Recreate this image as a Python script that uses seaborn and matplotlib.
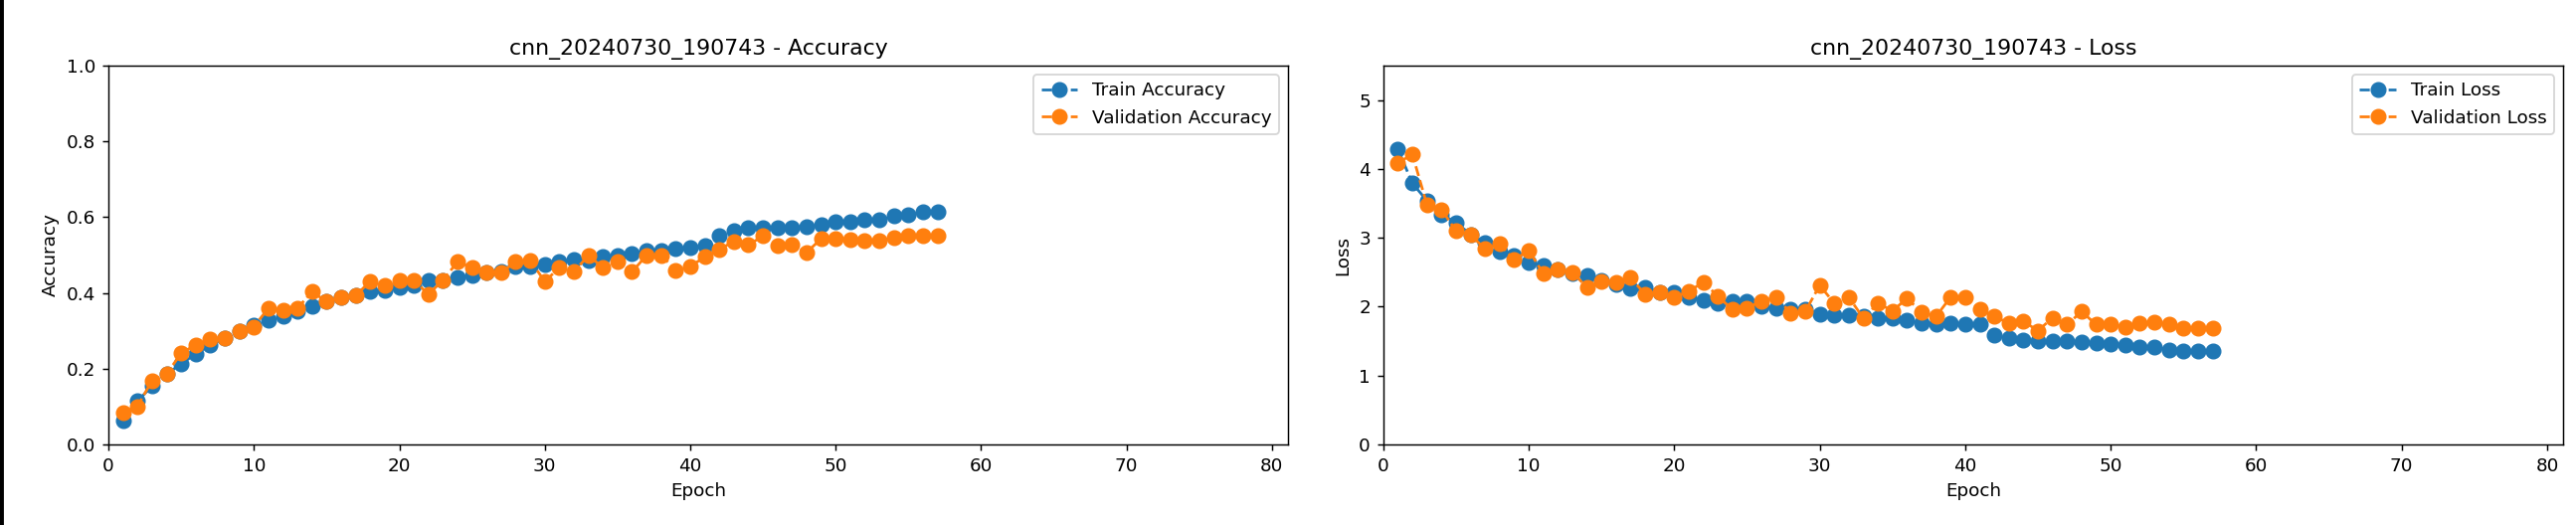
import numpy as np
import pandas as pd
import matplotlib
matplotlib.use("Agg")
import matplotlib.pyplot as plt
import seaborn as sns
from matplotlib.patches import Rectangle

run_name = "cnn_20240730_190743"

epochs = list(range(1, 58))

train_acc = [0.062, 0.115, 0.154, 0.186, 0.213, 0.239, 0.263, 0.280, 0.300, 0.315,
             0.329, 0.338, 0.351, 0.364, 0.377, 0.388, 0.393, 0.403, 0.408, 0.414,
             0.420, 0.434, 0.434, 0.440, 0.447, 0.454, 0.456, 0.470, 0.470, 0.476,
             0.484, 0.488, 0.486, 0.495, 0.500, 0.505, 0.511, 0.511, 0.517, 0.520,
             0.526, 0.552, 0.565, 0.571, 0.571, 0.571, 0.571, 0.576, 0.580, 0.587,
             0.587, 0.592, 0.592, 0.603, 0.606, 0.613, 0.613]
val_acc = [0.084, 0.101, 0.169, 0.186, 0.241, 0.263, 0.279, 0.282, 0.300, 0.311,
           0.360, 0.355, 0.360, 0.403, 0.377, 0.388, 0.393, 0.431, 0.421, 0.434,
           0.434, 0.396, 0.434, 0.482, 0.467, 0.454, 0.454, 0.482, 0.486, 0.430,
           0.467, 0.456, 0.499, 0.467, 0.484, 0.456, 0.499, 0.500, 0.460, 0.470,
           0.495, 0.515, 0.536, 0.527, 0.550, 0.526, 0.527, 0.507, 0.543, 0.543,
           0.541, 0.539, 0.539, 0.545, 0.550, 0.552, 0.552]

train_loss = [4.29, 3.79, 3.54, 3.34, 3.22, 3.05, 2.93, 2.80, 2.75, 2.64,
              2.60, 2.54, 2.48, 2.46, 2.38, 2.33, 2.26, 2.28, 2.21, 2.21,
              2.14, 2.10, 2.05, 2.08, 2.08, 2.00, 1.98, 1.97, 1.97, 1.89,
              1.88, 1.88, 1.86, 1.83, 1.83, 1.81, 1.76, 1.75, 1.76, 1.74,
              1.74, 1.59, 1.54, 1.52, 1.50, 1.50, 1.50, 1.49, 1.47, 1.46,
              1.45, 1.42, 1.42, 1.37, 1.35, 1.35, 1.35]
val_loss = [4.09, 4.21, 3.48, 3.41, 3.10, 3.04, 2.84, 2.91, 2.68, 2.82,
            2.48, 2.54, 2.50, 2.28, 2.37, 2.36, 2.42, 2.18, 2.21, 2.14,
            2.22, 2.36, 2.15, 1.96, 1.98, 2.08, 2.14, 1.91, 1.93, 2.31,
            2.05, 2.14, 1.83, 2.05, 1.94, 2.12, 1.92, 1.86, 2.14, 2.14,
            1.96, 1.86, 1.76, 1.79, 1.65, 1.84, 1.74, 1.93, 1.74, 1.74,
            1.71, 1.76, 1.78, 1.74, 1.69, 1.69, 1.69]

df = pd.DataFrame({"epoch": epochs, "train_acc": train_acc, "val_acc": val_acc,
                   "train_loss": train_loss, "val_loss": val_loss})

blue = "#1f77b4"
orange = "#ff7f0e"

fig = plt.figure(figsize=(2590 / 132, 528 / 132), dpi=132)
ax1 = fig.add_axes([0.0421, 0.1534, 0.4579, 0.7216])
ax2 = fig.add_axes([0.537, 0.1534, 0.458, 0.7216])

def draw(ax, col_train, col_val, lbl_train, lbl_val):
    # serie de treino e de validacao, linha tracejada com marcador
    sns.lineplot(data=df, x="epoch", y=col_train, ax=ax, color=blue, marker="o",
                 linestyle="--", markersize=8, markeredgecolor=blue, label=lbl_train)
    sns.lineplot(data=df, x="epoch", y=col_val, ax=ax, color=orange, marker="o",
                 linestyle="--", markersize=8, markeredgecolor=orange, label=lbl_val)
    ax.set_xlim(0, 81.1)
    ax.set_xlabel("Epoch")
    ax.legend(loc="upper right")

draw(ax1, "train_acc", "val_acc", "Train Accuracy", "Validation Accuracy")
ax1.set_ylim(0, 1.0)
ax1.set_ylabel("Accuracy")
ax1.set_title(f"{run_name} - Accuracy")

draw(ax2, "train_loss", "val_loss", "Train Loss", "Validation Loss")
ax2.set_ylim(0, 5.5)
ax2.set_ylabel("Loss")
ax2.set_title(f"{run_name} - Loss")

# borda preta na esquerda da captura
fig.patches.append(Rectangle((0, 0), 3 / 2590, 1, transform=fig.transFigure,
                             color="black", zorder=10))

fig.savefig("out.png", dpi=132)
